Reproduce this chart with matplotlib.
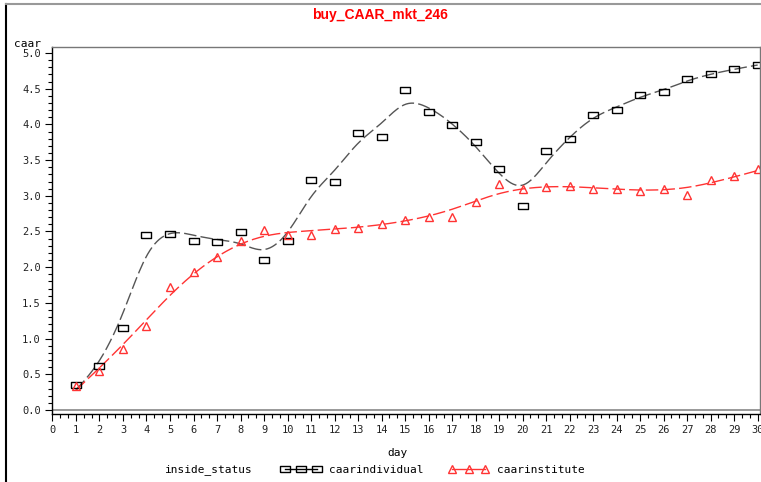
import numpy as np
import matplotlib
matplotlib.use("Agg")
import matplotlib.pyplot as plt
from matplotlib.lines import Line2D
from matplotlib.ticker import MultipleLocator, FormatStrFormatter

days = list(range(1, 31))
caar_individual = [0.35, 0.62, 1.15, 2.45, 2.47, 2.37, 2.35, 2.49, 2.10, 2.37,
                   3.22, 3.19, 3.88, 3.82, 4.48, 4.17, 3.99, 3.75, 3.38, 2.86,
                   3.63, 3.80, 4.13, 4.20, 4.41, 4.45, 4.63, 4.70, 4.77, 4.83]
caar_institute = [0.33, 0.55, 0.85, 1.17, 1.72, 1.93, 2.14, 2.36, 2.52, 2.45,
                  2.45, 2.54, 2.55, 2.60, 2.66, 2.70, 2.70, 2.92, 3.17, 3.10,
                  3.12, 3.14, 3.10, 3.10, 3.07, 3.10, 3.01, 3.22, 3.28, 3.37]


def smooth(x, y, lam, step=0.05):
    # penalised fit on a fine grid (like a cubic smoothing spline)
    x = np.asarray(x, float)
    y = np.asarray(y, float)
    grid = np.arange(x.min(), x.max() + step / 2, step)
    n = len(grid)
    idx = np.rint((x - x.min()) / step).astype(int)
    W = np.zeros((n, n))
    rhs = np.zeros(n)
    W[idx, idx] = 1.0
    rhs[idx] = y
    D = np.diff(np.eye(n), 2, axis=0)
    f = np.linalg.solve(W + lam / step ** 3 * D.T @ D, rhs)
    return grid, f


fig = plt.figure(figsize=(7.61, 4.82), dpi=100)
ax = fig.add_axes([52 / 761, 1 - 414 / 482, 708 / 761, 367 / 482])

gx, gy = smooth(days, caar_individual, 0.22)
ax.plot(gx, gy, color="#555555", lw=1.0, dashes=(9, 3))
rx, ry = smooth(days, caar_institute, 3.0)
ax.plot(rx, ry, color="#ff3333", lw=1.0, dashes=(9, 3))

rect = [(-1.5, -1), (1.5, -1), (1.5, 1), (-1.5, 1), (-1.5, -1)]
ax.plot(days, caar_individual, ls="none", marker=rect, ms=7.5, mfc="none",
        mec="black", mew=1.0)
ax.plot(days, caar_institute, ls="none", marker="^", ms=6, mfc="none",
        mec="#ff3333", mew=1.0)

ax.axhline(0, color="#888888", lw=1.2)
ax.set_xlim(-0.02, 30.1)
ax.set_ylim(-0.056, 5.084)

ax.xaxis.set_major_locator(MultipleLocator(1))
ax.xaxis.set_minor_locator(MultipleLocator(1 / 3))
ax.yaxis.set_major_locator(MultipleLocator(0.5))
ax.yaxis.set_minor_locator(MultipleLocator(0.1))
ax.yaxis.set_major_formatter(FormatStrFormatter("%.1f"))

tick_font = {"family": "DejaVu Sans Mono", "size": 8}
for lab in ax.get_xticklabels() + ax.get_yticklabels():
    lab.set_fontfamily("DejaVu Sans Mono")
    lab.set_fontsize(7.5)
ax.tick_params(which="major", length=5, width=0.8, color="black",
               labelcolor="#222222", pad=3)
ax.tick_params(which="minor", length=3, width=0.8, color="black")

for side in ["top", "right"]:
    ax.spines[side].set_color("#777777")
    ax.spines[side].set_linewidth(1.0)
for side in ["left", "bottom"]:
    ax.spines[side].set_color("black")
    ax.spines[side].set_linewidth(1.0)

fig.text(380 / 761, 1 - 15 / 482, "buy_CAAR_mkt_246", color="red",
         fontfamily="Liberation Sans", fontweight="bold", fontsize=10,
         ha="center", va="center")
fig.text(14 / 761, 1 - 44 / 482, "caar", fontdict=tick_font, ha="left",
         va="center")
fig.text(397 / 761, 1 - 453 / 482, "day", fontdict=tick_font, ha="center",
         va="center")
fig.text(165 / 761, 1 - 470 / 482, "inside_status", fontdict=tick_font,
         ha="left", va="center")

handles = [
    Line2D([], [], color="black", lw=1.0, marker=rect, ms=7.5, mfc="none",
           mec="black"),
    Line2D([], [], color="#ff3333", lw=1.0, marker="^", ms=6, mfc="none",
           mec="#ff3333"),
]
fig.legend(handles, ["caarindividual", "caarinstitute"], ncol=2,
           loc="center left", bbox_to_anchor=(278 / 761, 1 - 470 / 482),
           frameon=False, numpoints=3, handlelength=3.5, handletextpad=0.8,
           columnspacing=2.3, borderaxespad=0, borderpad=0.3,
           prop={"family": "DejaVu Sans Mono", "size": 8})

# page frame
fig.add_artist(Line2D([6 / 761, 6 / 761], [0, 1 - 4 / 482],
                      transform=fig.transFigure, color="black", lw=1.5))
fig.add_artist(Line2D([6 / 761, 1], [1 - 4 / 482, 1 - 4 / 482],
                      transform=fig.transFigure, color="#999999", lw=1.5))

fig.savefig("out.png", dpi=100)
